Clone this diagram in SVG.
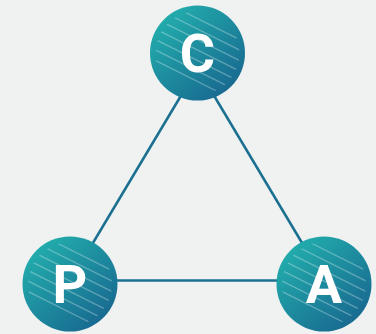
<svg xmlns="http://www.w3.org/2000/svg" xmlns:xlink="http://www.w3.org/1999/xlink" width="376" height="334" viewBox="0 0 376 334">
  <defs>
    <linearGradient id="ballFill" x1="0.15" y1="0.1" x2="0.85" y2="0.9">
      <stop offset="0" stop-color="#22adac"/>
      <stop offset="1" stop-color="#186990"/>
    </linearGradient>
    <clipPath id="hatchClip">
      <circle cx="0" cy="0" r="42"/>
    </clipPath>
    <!-- one ball: gradient disc with light diagonal hatching -->
    <g id="ball">
      <circle cx="0" cy="0" r="47.5" fill="url(#ballFill)"/>
      <g clip-path="url(#hatchClip)" stroke="#ffffff" stroke-opacity="0.3" stroke-width="1.2">
        <line x1="-60" y1="-64.5" x2="60" y2="-4.5"/>
        <line x1="-60" y1="-54" x2="60" y2="6"/>
        <line x1="-60" y1="-43.5" x2="60" y2="16.5"/>
        <line x1="-60" y1="-33" x2="60" y2="27"/>
        <line x1="-60" y1="-22.5" x2="60" y2="37.5"/>
        <line x1="-60" y1="-12" x2="60" y2="48"/>
        <line x1="-60" y1="-1.5" x2="60" y2="58.5"/>
      </g>
    </g>
  </defs>
  <style>
    .edge { stroke: #1a7090; stroke-width: 2.5; fill: none; }
    .label { font-family: Roboto, "Liberation Sans", sans-serif; font-weight: 700; font-size: 54px; fill: #ffffff; text-anchor: middle; }
  </style>

  <rect width="376" height="334" fill="#f0f1f1"/>

  <g id="connectors">
    <line class="edge" x1="197.5" y1="68" x2="70.5" y2="280.5"/>
    <line class="edge" x1="197.5" y1="68" x2="324.5" y2="280.5"/>
    <line class="edge" x1="70.5" y1="280.5" x2="324.5" y2="280.5"/>
  </g>

  <g id="node-C" transform="translate(197.5,53)">
    <use xlink:href="#ball"/>
    <text class="label" x="0" y="19">C</text>
  </g>

  <g id="node-P" transform="translate(70,284)">
    <use xlink:href="#ball"/>
    <text class="label" x="0" y="19">P</text>
  </g>

  <g id="node-A" transform="translate(324,284)">
    <use xlink:href="#ball"/>
    <text class="label" x="0" y="19">A</text>
  </g>
</svg>
